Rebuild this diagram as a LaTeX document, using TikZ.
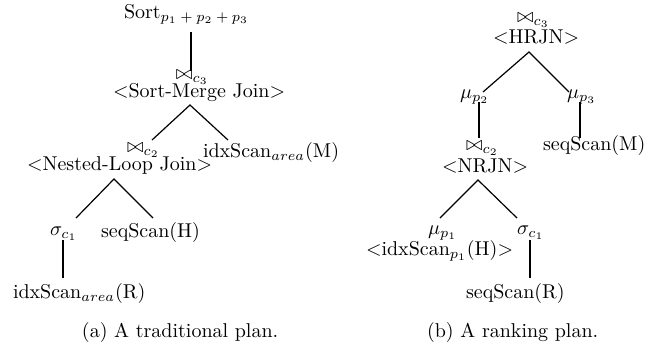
\documentclass[tikz,border=0pt]{standalone}
\begin{document}
\begin{tikzpicture}[x=0.5pt,y=-0.5pt,
  lbl/.style={inner sep=0pt,outer sep=0pt,anchor=base west},
  thickline/.style={line width=1.4pt},
  thinline/.style={line width=0.6pt}]
\useasboundingbox (0,0) rectangle (660,345);
% ---- left tree ----
\node[lbl] (sortN) at (124,18) {Sort$_{p_1\mskip4mu+\mskip4mu p_2\mskip4mu+\mskip4mu p_3}$};
\node[lbl] (j3) at (176,79) {$\bowtie_{c_3}$};
\node[lbl] (smj) at (113,97) {$<$Sort-Merge Join$>$};
\node[lbl] (j2) at (127,152) {$\bowtie_{c_2}$};
\node[lbl] (idxM) at (203,157) {idxScan$_{area}$(M)};
\node[lbl] (nlj) at (27,170) {$<$Nested-Loop Join$>$};
\node[lbl] (sigA) at (50,235) {$\sigma_{c_1}$};
\node[lbl] (seqH) at (101,237) {seqScan(H)};
\node[lbl] (idxR) at (13,298) {idxScan$_{area}$(R)};
\node[lbl] (capA) at (82,337) {(a) A traditional plan.};
\coordinate (sortB) at (191,32);
\coordinate (smjT) at (191,71);
\coordinate (smjB) at (190,105);
\coordinate (nljT) at (152,140);
\coordinate (idxMT) at (228,140);
\coordinate (nljB) at (114,179);
\coordinate (sigAT) at (76,218);
\coordinate (seqHT) at (153,218);
\coordinate (sigAB) at (63,240);
\coordinate (idxRT) at (63,278);
\draw[thickline] (sortB) -- (smjT);
\draw[thinline] (nljT) -- (smjB) -- (idxMT);
\draw[thinline] (sigAT) -- (nljB) -- (seqHT);
\draw[thickline] (sigAB) -- (idxRT);
% ---- right tree ----
\node[lbl] (j3b) at (517,22) {$\bowtie_{c_3}$};
\node[lbl] (hrjn) at (493,43) {$<$HRJN$>$};
\node[lbl] (mu2) at (460,98) {$\mu_{p_2}$};
\node[lbl] (mu3) at (567,98) {$\mu_{p_3}$};
\node[lbl] (j2b) at (466,150) {$\bowtie_{c_2}$};
\node[lbl] (seqM) at (543,150) {seqScan(M)};
\node[lbl] (nrjn) at (442,172) {$<$NRJN$>$};
\node[lbl] (mu1) at (428,234) {$\mu_{p_1}$};
\node[lbl] (idxH) at (366,255) {$<$idxScan$_{p_1}$(H)$>$};
\node[lbl] (sigB) at (517,234) {$\sigma_{c_1}$};
\node[lbl] (seqR) at (466,298) {seqScan(R)};
\node[lbl] (capB) at (427,337) {(b) A ranking plan.};
\coordinate (hrjnB) at (529,52);
\coordinate (mu2T) at (483,92);
\coordinate (mu3T) at (569,92);
\coordinate (mu2B) at (479,102);
\coordinate (nrjnT) at (479,138);
\coordinate (mu3B) at (580,102);
\coordinate (seqMT) at (580,138);
\coordinate (nrjnB) at (478,180);
\coordinate (mu1T) at (440,218);
\coordinate (sigBT) at (517,218);
\coordinate (sigBB) at (530,240);
\coordinate (seqRT) at (530,278);
\draw[thinline] (mu2T) -- (hrjnB) -- (mu3T);
\draw[thickline] (mu2B) -- (nrjnT);
\draw[thickline] (mu3B) -- (seqMT);
\draw[thinline] (mu1T) -- (nrjnB) -- (sigBT);
\draw[thickline] (sigBB) -- (seqRT);
\end{tikzpicture}
\end{document}
